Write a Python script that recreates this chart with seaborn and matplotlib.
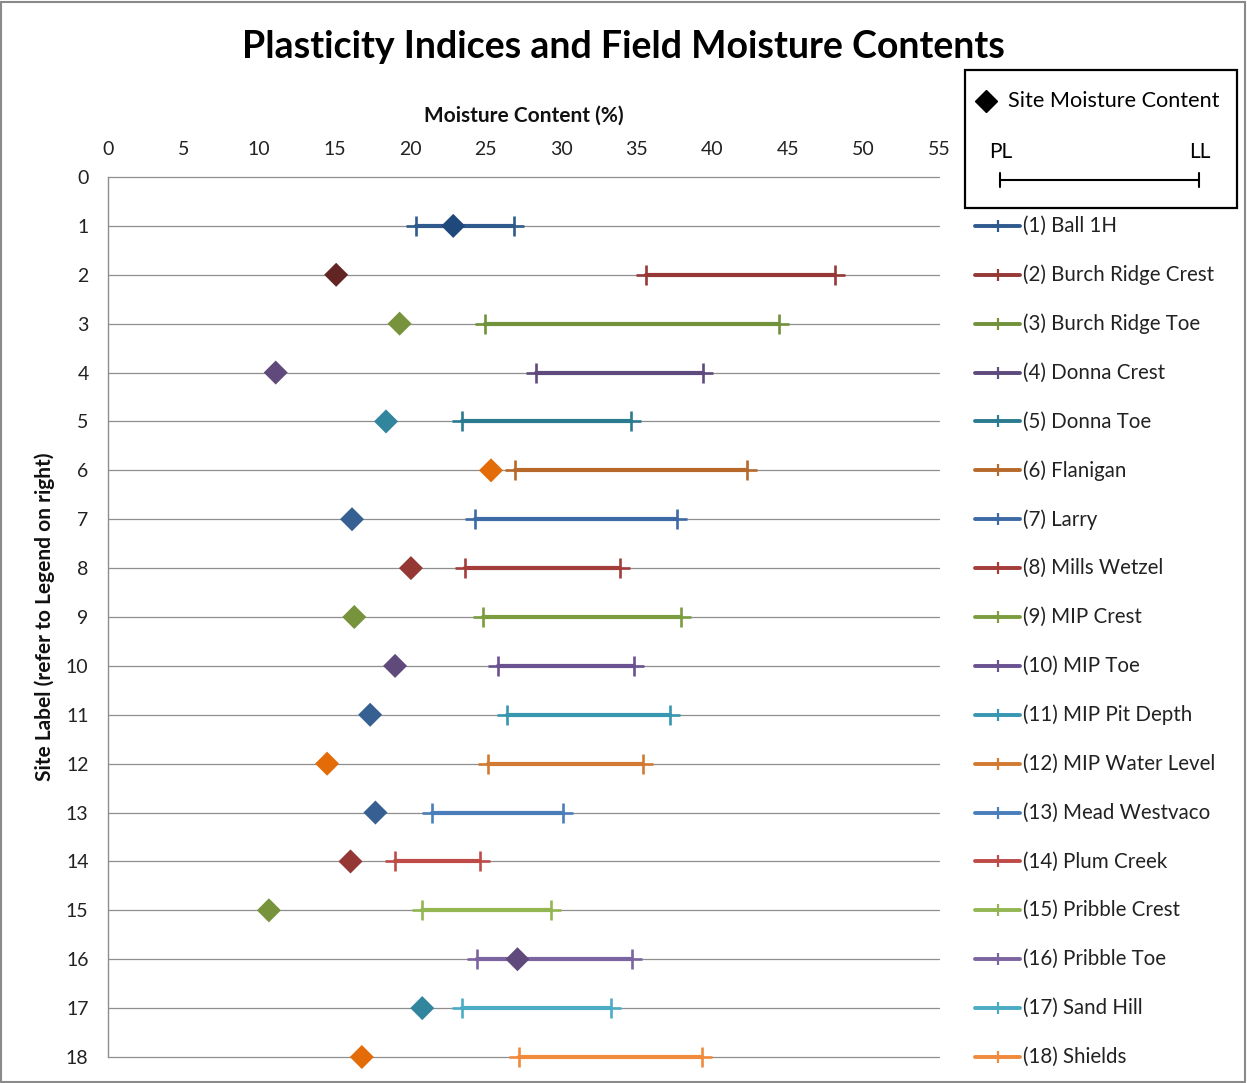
import matplotlib
matplotlib.use("Agg")
import matplotlib.pyplot as plt
import matplotlib.transforms as mtransforms
from matplotlib.patches import Rectangle
from matplotlib.lines import Line2D
import seaborn as sns
import pandas as pd

# ---------------- data ----------------
sites = ["(1) Ball 1H", "(2) Burch Ridge Crest", "(3) Burch Ridge Toe", "(4) Donna Crest",
         "(5) Donna Toe", "(6) Flanigan", "(7) Larry", "(8) Mills Wetzel", "(9) MIP Crest",
         "(10) MIP Toe", "(11) MIP Pit Depth", "(12) MIP Water Level", "(13) Mead Westvaco",
         "(14) Plum Creek", "(15) Pribble Crest", "(16) Pribble Toe", "(17) Sand Hill",
         "(18) Shields"]
site_rows = list(range(1, 19))
moisture = [22.85, 15.1, 19.3, 11.1, 18.4, 25.35, 16.15, 20.05, 16.3,
            19.0, 17.35, 14.5, 17.7, 16.05, 10.65, 27.1, 20.8, 16.8]
plastic_limit = [20.4, 35.6, 24.95, 28.3, 23.45, 26.95, 24.3, 23.65, 24.8,
                 25.8, 26.4, 25.15, 21.45, 19.0, 20.8, 24.4, 23.45, 27.2]
liquid_limit = [26.9, 48.1, 44.4, 39.4, 34.6, 42.3, 37.65, 33.9, 37.9,
                34.8, 37.2, 35.4, 30.1, 24.65, 29.3, 34.65, 33.3, 39.3]
x_ticks = [0, 5, 10, 15, 20, 25, 30, 35, 40, 45, 50, 55]
y_ticks = list(range(0, 19))

line_colors = ["#2F5A8E", "#963836", "#71913A", "#5E4A7D", "#2A7B90", "#B7692B",
               "#3D6AA5", "#A33C3A", "#7B9C3F", "#6A5190", "#3796B0", "#D27A32",
               "#4A7EBB", "#BE4B48", "#93B653", "#7C64A0", "#4BACC6", "#F08A3C"]
diamond_colors = ["#1F497D", "#632523", "#77933C", "#604A7B", "#31859C", "#E36C09",
                  "#376092", "#953735", "#77933C", "#604A7B", "#376092", "#E36C09",
                  "#376092", "#953735", "#77933C", "#604A7B", "#31859C", "#E36C09"]

# ---------------- tables ----------------
df_range = pd.DataFrame({
    "site": sites * 2,
    "row": site_rows * 2,
    "value": plastic_limit + liquid_limit,
})
df_mc = pd.DataFrame({"site": sites, "row": site_rows, "moisture": moisture})

# ---------------- figure ----------------
W, H = 1247, 1083
sns.set_theme(style="white")
FONT = ["Lato", "DejaVu Sans"]
plt.rcParams["font.family"] = FONT

fig = plt.figure(figsize=(W / 100, H / 100), dpi=100)
fig.patch.set_facecolor("white")

def fx(px):
    return px / W

def fy(py):
    return 1 - py / H

ax_left, ax_right, ax_top, ax_bottom = 108, 939, 177, 1057
ax = fig.add_axes([fx(ax_left), fy(ax_bottom), (ax_right - ax_left) / W, (ax_bottom - ax_top) / H])
ax.set_facecolor("white")

# grid lines
for r in y_ticks:
    ax.axhline(r, color="#8E8E8E", lw=0.9, zorder=0.5)

# PL-LL ranges
sns.lineplot(data=df_range, x="value", y="row", hue="site", palette=line_colors,
             estimator=None, sort=True, marker="+", markersize=14, mew=1.9,
             lw=3.0, legend=False, ax=ax, zorder=2, clip_on=False)
for ln in ax.get_lines():
    c = ln.get_color()
    ln.set_markeredgecolor(c)
    ln.set_markerfacecolor(c)
    ln.set_clip_on(False)

# moisture diamonds
sns.scatterplot(data=df_mc, x="moisture", y="row", hue="site", palette=diamond_colors,
                marker="D", s=150, linewidth=0, legend=False, ax=ax, zorder=4, clip_on=False)

ax.set_xlim(0, 55)
ax.set_ylim(18, 0)
ax.set_xticks(x_ticks)
ax.set_yticks(y_ticks)
ax.xaxis.tick_top()
ax.tick_params(axis="both", length=0, labelsize=14, colors="#222222")
ax.tick_params(axis="x", pad=14)
ax.tick_params(axis="y", pad=14)
for s in ["right", "bottom", "top"]:
    ax.spines[s].set_visible(False)
ax.spines["left"].set_color("#8E8E8E")
ax.spines["left"].set_linewidth(1.0)

ax.set_xlabel("Moisture Content (%)", fontsize=15, fontweight="bold", color="#111111")
ax.xaxis.set_label_position("top")
ax.xaxis.set_label_coords(0.5, 1 + (ax_top - 116) / (ax_bottom - ax_top))
ax.xaxis.label.set_va("center")
ax.set_ylabel("Site Label (refer to Legend on right)", fontsize=15, fontweight="bold", color="#111111")
ax.yaxis.set_label_coords((45 - ax_left) / (ax_right - ax_left), 0.5)
ax.yaxis.label.set_va("center")

# per-site legend aligned with rows
blend = mtransforms.blended_transform_factory(ax.transAxes, ax.transData)
aw = ax_right - ax_left
x0 = (975 - ax_left) / aw
x1 = (1020 - ax_left) / aw
xm = (998 - ax_left) / aw
xt = (1023 - ax_left) / aw
for site, r, c in zip(sites, site_rows, line_colors):
    ax.add_line(Line2D([x0, x1], [r, r], transform=blend, color=c, lw=2.8, clip_on=False))
    ax.add_line(Line2D([xm], [r], transform=blend, color=c, marker="+", markersize=8,
                       mew=1.6, lw=0, clip_on=False))
    ax.text(xt, r, site, transform=blend, ha="left", va="center", fontsize=14.8,
            color="#222222", clip_on=False)

# key box (top right)
fig.add_artist(Rectangle((fx(965), fy(208)), fx(1237) - fx(965), fy(70) - fy(208),
                         transform=fig.transFigure, fill=False, ec="black", lw=1.6))
fig.add_artist(Line2D([fx(986)], [fy(101)], transform=fig.transFigure, marker="D",
                      markersize=11, color="black", lw=0))
fig.text(fx(1008), fy(101), "Site Moisture Content", ha="left", va="center",
         fontsize=15.6, color="black")
fig.text(fx(1001), fy(152), "PL", ha="center", va="center", fontsize=15, color="black")
fig.text(fx(1200), fy(152), "LL", ha="center", va="center", fontsize=15, color="black")
fig.add_artist(Line2D([fx(1000), fx(1199)], [fy(180), fy(180)], transform=fig.transFigure,
                      color="black", lw=1.5))
for px in (1000, 1199):
    fig.add_artist(Line2D([fx(px), fx(px)], [fy(173), fy(187)], transform=fig.transFigure,
                          color="black", lw=1.5))

# title
fig.text(0.5, fy(47), "Plasticity Indices and Field Moisture Contents", ha="center",
         va="center", fontsize=27, fontweight="bold", color="black")

# outer frame
fig.add_artist(Rectangle((fx(1), fy(1082)), fx(1245) - fx(1), fy(2) - fy(1082),
                         transform=fig.transFigure, fill=False, ec="#8A8A8A", lw=1.5))

fig.savefig("out.png", dpi=100)
